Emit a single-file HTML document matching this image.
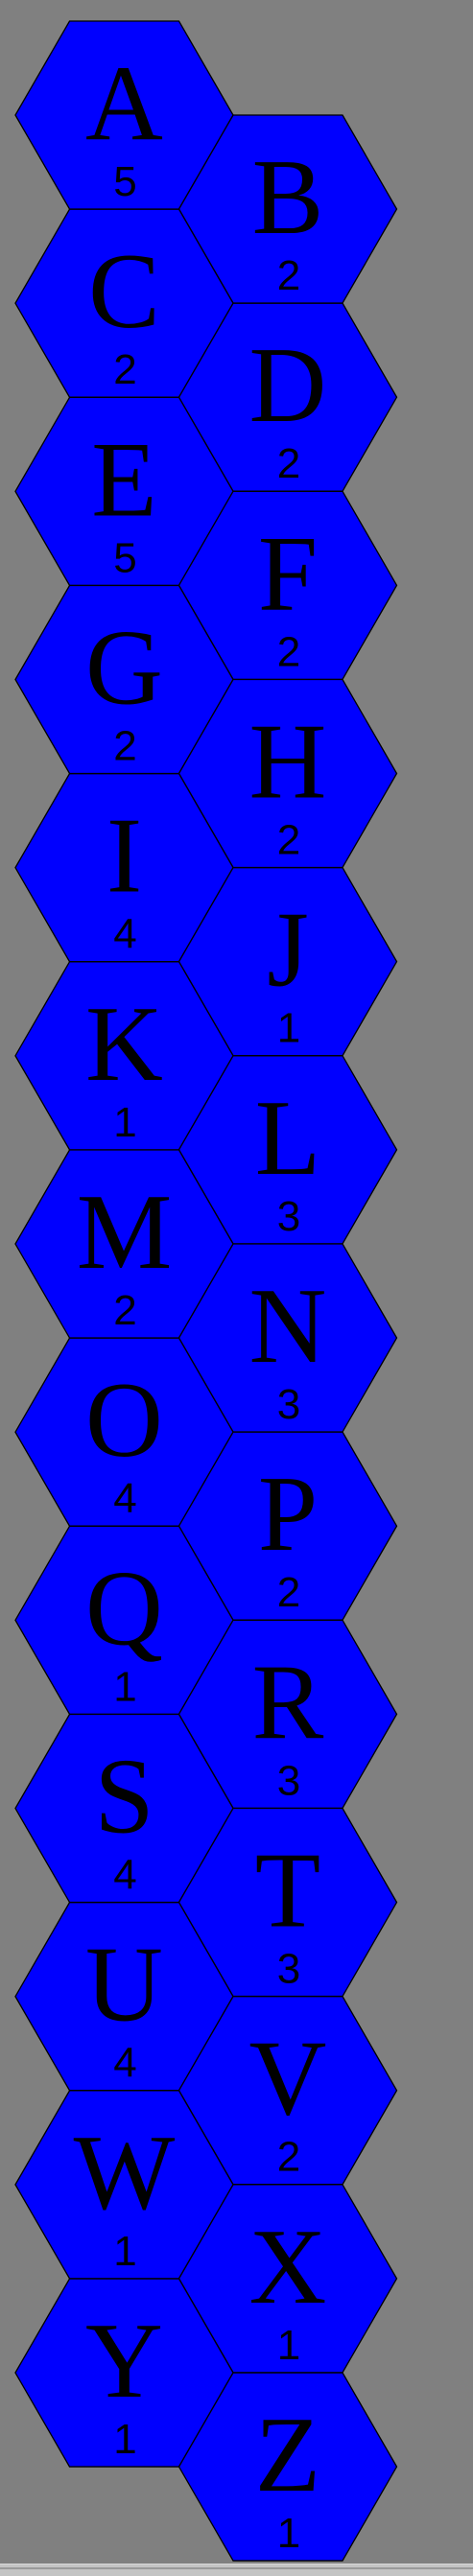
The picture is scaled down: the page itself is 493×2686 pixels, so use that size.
<!DOCTYPE html>
<html><head><meta charset="utf-8"><style>
html,body{margin:0;padding:0;background:#808080;width:493px;height:2685px;overflow:hidden}
#bar{position:absolute;left:0;top:2673px;width:493px;height:12px;background:#c4c4c4;border-top:1px solid #d8d8d8}
#bar2{position:absolute;left:0;top:2677px;width:493px;height:2px;background:#9a9a9a}
</style></head><body>
<svg id="chart" width="493" height="2673" style="position:absolute;left:0;top:0"></svg>
<div id="bar"></div>
<div id="bar2"></div>
<script>
const letters = ["A","B","C","D","E","F","G","H","I","J","K","L","M","N","O","P","Q","R","S","T","U","V","W","X","Y","Z"];
const counts = [5,2,2,2,5,2,2,2,4,1,1,3,2,3,4,2,1,3,4,3,4,2,1,1,1,1];
const NS = "http://www.w3.org/2000/svg";
const svg = document.getElementById("chart");
const pitch = 196.17, hw = 113.5, side = 57, hh = 98;
function cx(i){ return i % 2 === 0 ? 129.5 : 300; }
function cy(i){ return 120 + (i % 2) * 98 + Math.floor(i / 2) * pitch; }
letters.forEach((L, i) => {
  const x = cx(i), y = cy(i);
  const g = document.createElementNS(NS, "g");
  
  
  const p = document.createElementNS(NS, "polygon");
  
  
  const pts = [[x-side,y-hh],[x+side,y-hh],[x+hw,y],[x+side,y+hh],[x-side,y+hh],[x-hw,y]];
  p.setAttribute("points", pts.map(q => q.join(",")).join(" "));
  p.setAttribute("fill", "#0000ff");
  p.setAttribute("stroke", "#000");
  p.setAttribute("stroke-width", "1.3");
  g.appendChild(p);
  const t = document.createElementNS(NS, "text");
  
  
  t.setAttribute("x", x); t.setAttribute("y", y + 25);
  t.setAttribute("text-anchor", "middle");
  t.setAttribute("font-family", "Liberation Serif, serif");
  t.setAttribute("font-size", "112");
  t.textContent = L;
  g.appendChild(t);
  const n = document.createElementNS(NS, "text");
  
  
  n.setAttribute("x", x + 1); n.setAttribute("y", y + 84);
  n.setAttribute("text-anchor", "middle");
  n.setAttribute("font-family", "Liberation Sans, sans-serif");
  n.setAttribute("font-size", "44");
  n.textContent = counts[i];
  g.appendChild(n);
  svg.appendChild(g);
});
</script>
</body></html>
